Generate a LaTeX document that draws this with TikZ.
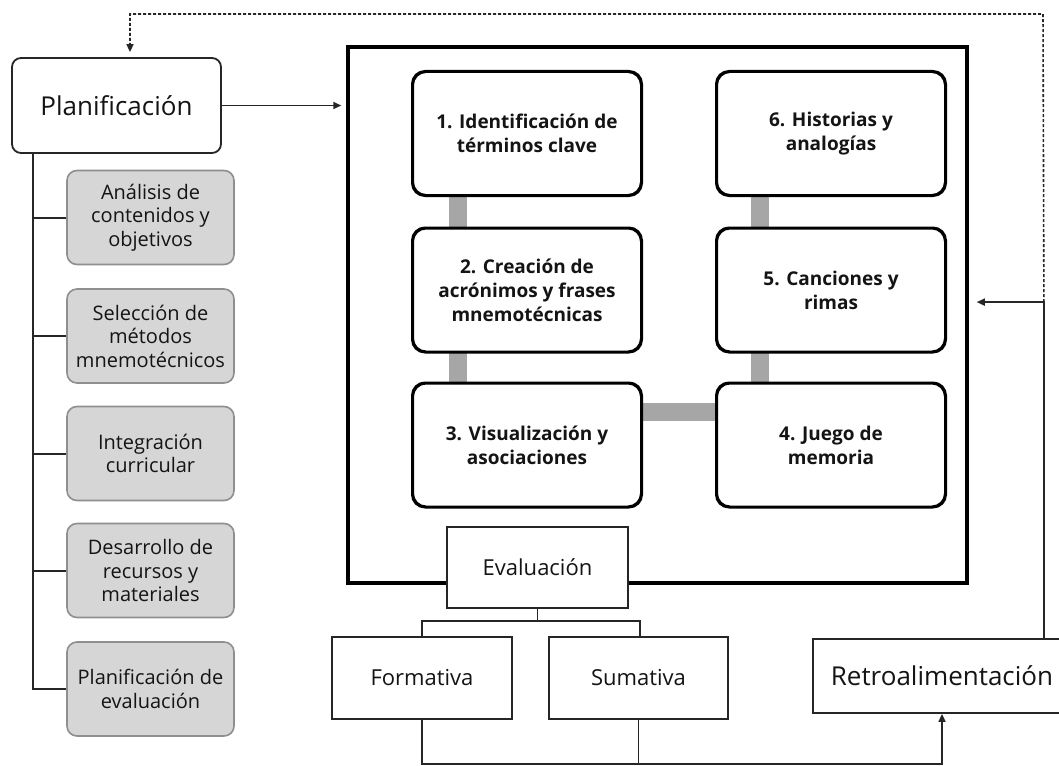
\documentclass[tikz,border=0pt]{standalone}
\usepackage{fontspec}
\setmainfont{Open Sans}
\usetikzlibrary{arrows.meta,calc}
\definecolor{txt}{HTML}{141414}
\definecolor{sub}{HTML}{D6D6D6}
\definecolor{subline}{HTML}{8F8F8F}
\definecolor{link}{HTML}{A6A6A6}
\definecolor{wire}{HTML}{262626}
\tikzset{
  planbox/.style={draw=wire, line width=1.8pt, rounded corners=9pt, fill=white,
    minimum width=209pt, minimum height=95pt, text=txt,
    font=\fontsize{26}{30}\selectfont},
  subbox/.style={draw=subline, line width=1.6pt, rounded corners=10pt, fill=sub,
    minimum width=167pt, minimum height=94pt, text=txt, align=center,
    font=\fontsize{20}{23.5}\selectfont},
  stepbox/.style={draw=black, line width=2pt, rounded corners=13pt, fill=white,
    minimum width=228pt, minimum height=123pt, text=txt, align=center,
    font=\fontsize{19}{24}\selectfont\bfseries},
  evalbox/.style={draw=wire, line width=1.8pt, fill=white, text=txt,
    minimum height=81pt, font=\fontsize{22}{26}\selectfont},
  glink/.style={draw=link, line width=18pt},
  tree/.style={draw=wire, line width=2pt},
  thin/.style={draw=wire, line width=1.7pt},
  arr/.style={-{Triangle[length=8pt,width=7pt]}},
}
\begin{document}
\begin{tikzpicture}[x=1pt,y=-1pt]
\clip (0,0) rectangle (1059,765);
\fill[white] (0,0) rectangle (1059,765);

% main frame
\node[draw=black, line width=3.5pt, minimum width=619pt, minimum height=536pt, inner sep=0pt] (main) at (657.5,315) {};

% planning
\node[planbox] (plan) at (116.5,105.5) {Planificación};
\node[subbox] (s1) at (150.5,217.5) {Análisis de\\contenidos y\\objetivos};
\node[subbox] (s2) at (150.5,336) {Selección de\\métodos\\mnemotécnicos};
\node[subbox] (s3) at (150.5,453.5) {Integración\\curricular};
\node[subbox] (s4) at (150.5,570.5) {Desarrollo de\\recursos y\\materiales};
\node[subbox] (s5) at (150.5,689) {Planificación de\\evaluación};

\coordinate (treetop) at ($(plan.south west)+(22,0)$);
\draw[tree] (treetop) |- (s5.west);
\foreach \s in {s1,s2,s3,s4}{\draw[tree] (treetop |- \s.west) -- (\s.west);}

\draw[thin,arr,shorten >=5pt] (plan.east) -- (plan.east -| main.west);

% steps
\node[stepbox] (b1) at (527,133.5) {1. Identificación de\\términos clave};
\node[stepbox] (b2) at (527,290) {2. Creación de\\acrónimos y frases\\mnemotécnicas};
\node[stepbox] (b3) at (527,445) {3. Visualización y\\asociaciones};
\node[stepbox] (b6) at (831,133.5) {6. Historias y\\analogías};
\node[stepbox] (b5) at (831,290) {5. Canciones y\\rimas};
\node[stepbox] (b4) at (831,445) {4. Juego de\\memoria};

\draw[glink] ($(b1.south west)+(46,0)$) -- ($(b2.north west)+(46,0)$);
\draw[glink] ($(b2.south west)+(46,0)$) -- ($(b3.north west)+(46,0)$);
\draw[glink] ($(b6.south west)+(44,0)$) -- ($(b5.north west)+(44,0)$);
\draw[glink] ($(b5.south west)+(44,0)$) -- ($(b4.north west)+(44,0)$);
\draw[glink] ($(b3.north east)+(0,29)$) -- ($(b4.north west)+(0,29)$);
% redraw box borders over links
\foreach \b in {b1,b2,b3,b4,b5,b6}{\draw[black, line width=2pt, rounded corners=13pt] (\b.south west) rectangle (\b.north east);}

% evaluation
\node[evalbox, minimum width=181pt] (ev) at (537.5,567.5) {Evaluación};
\node[evalbox, minimum width=180pt, minimum height=82pt] (fo) at (422,678) {Formativa};
\node[evalbox, minimum width=179pt, minimum height=82pt] (su) at (638.5,678) {Sumativa};
\node[evalbox, minimum width=258pt, minimum height=74pt, font=\fontsize{26}{30}\selectfont] (re) at (942,676) {Retroalimentación};

\coordinate (evj) at ($(ev.south)+(0,12)$);
\draw[thin] (ev.south) -- (evj);
\draw[thin] (evj) -| (fo.north);
\draw[thin] (evj) -| ($(su.north)+(1.5,0)$);

\coordinate (bot) at ($(fo.south)+(0,44)$);
\draw[thin] (su.south) -- (su.south |- bot);
\draw[thin,arr] (fo.south) -- (bot) -| (re.south);

% feedback loop
\coordinate (fb) at ($(re.north east)+(-28,-336)$);
\draw[thin,arr,shorten >=8pt] ($(re.north east)+(-28,0)$) -- (fb) -- (fb -| main.east);
\coordinate (dtop) at (1043,14);
\draw[wire, line width=1.6pt, dash pattern=on 3pt off 2pt, arr] (fb) -- (dtop) -| ($(plan.north)+(13.5,-5)$);
\end{tikzpicture}
\end{document}
